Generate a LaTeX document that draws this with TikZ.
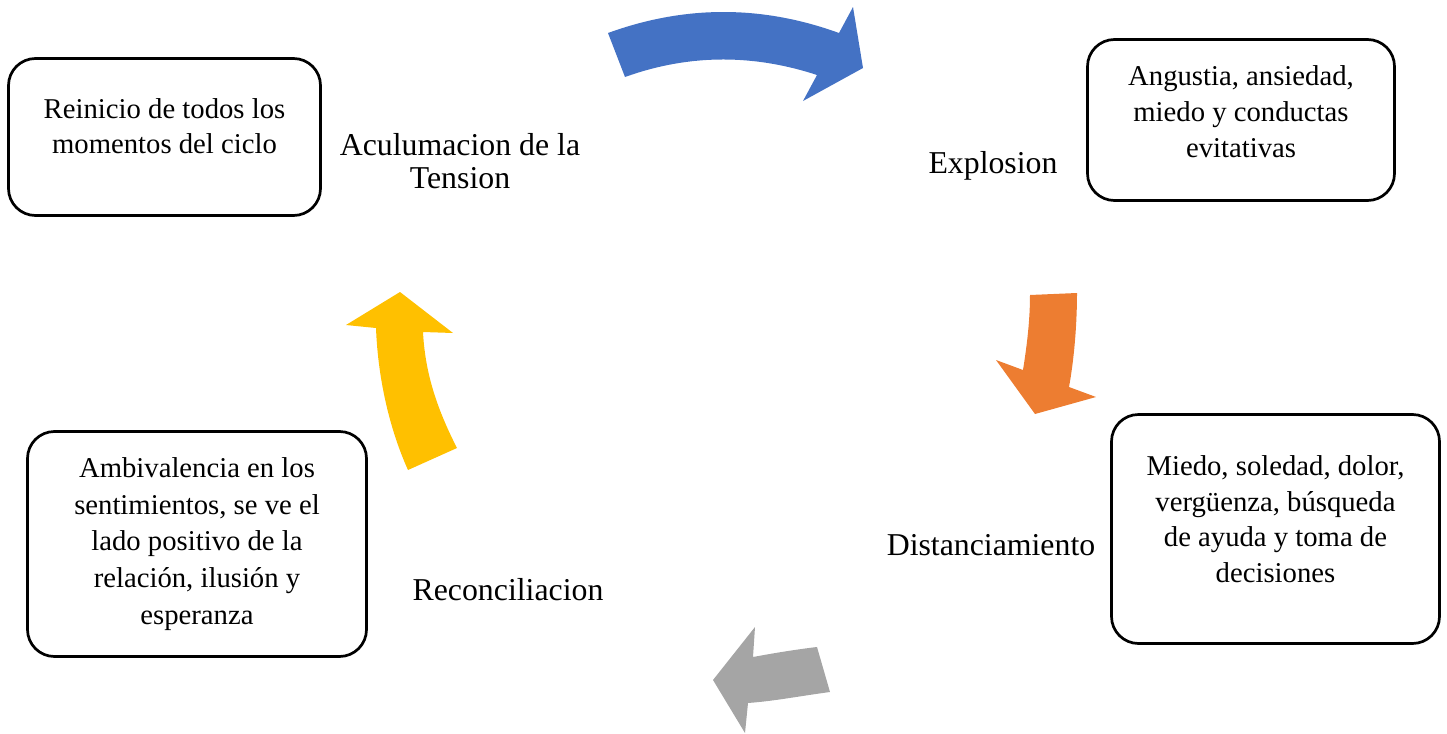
\documentclass[tikz,border=0pt]{standalone}
\usepackage{fontspec}
\setmainfont{Liberation Serif}
\definecolor{cycleblue}{HTML}{4472C4}
\definecolor{cycleorange}{HTML}{ED7D31}
\definecolor{cyclegray}{HTML}{A5A5A5}
\definecolor{cycleyellow}{HTML}{FFC000}
\newcommand{\lowpad}[1]{\rule[-#1]{0pt}{#1}}

\begin{document}
\begin{tikzpicture}[x = 0.5pt, y = -0.5pt,
	card/.style = {draw, line width = 1.35pt, rounded corners = 13.5pt, align = center, inner sep = 0pt, font = \fontsize{14.35}{17.85}\selectfont},
	phase/.style = {align = center, inner sep = 0pt, font = \fontsize{15.9}{16.5}\selectfont}]
	 \useasboundingbox (0, 0) rectangle (1447, 734);
	 
	 \fill[cycleblue] (608, 33) .. controls (685, 5) and (762, 5) .. (839, 33) -- (853, 7) -- (863, 68) -- (803, 101) -- (817, 75) .. controls (753, 54) and (689, 54) .. (625, 77) -- cycle;
	 \fill[cycleorange] (1030, 295) -- (1077, 293) .. controls (1077, 325) and (1074, 360) .. (1069, 387) -- (1096, 397) -- (1035, 414) -- (996, 360) -- (1023, 370) .. controls (1027, 345) and (1030, 320) .. (1030, 295) -- cycle;
	 \fill[cyclegray] (817, 647) -- (830, 692) .. controls (800, 696) and (775, 701) .. (748, 703) -- (745, 733) -- (713, 680) -- (755, 627) -- (753, 657) .. controls (780, 652) and (800, 649) .. (817, 647) -- cycle;
	 \fill[cycleyellow] (408, 470) -- (457, 448) .. controls (435, 405) and (425, 370) .. (423, 332) -- (453, 333) -- (400, 292) -- (346, 325) -- (376, 328) .. controls (378, 380) and (390, 430) .. (408, 470) -- cycle;
	 
	 \node[phase] (tension) at (460, 161) {Aculumacion de la\\Tension};
	 \node[phase] (explosion) at (993, 166) {Explosion};
	 \node[phase] (distance) at (991, 545) {Distanciamiento};
	 \node[phase] (reconcile) at (508, 590) {Reconciliacion};
	 
	 \node[card, minimum width = 156pt, minimum height = 78.5pt] (restart) at (164.5, 137) {Reinicio de todos los\\momentos del ciclo\lowpad{11pt}};
	 \node[card, minimum width = 153.5pt, minimum height = 80.5pt] (anguish) at (1241, 120) {Angustia, ansiedad,\\miedo y conductas\\evitativas\lowpad{8.5pt}};
	 \node[card, minimum width = 164pt, minimum height = 114.5pt] (fear) at (1275.5, 529) {Miedo, soledad, dolor,\\vergüenza, búsqueda\\de ayuda y toma de\\decisiones\lowpad{10pt}};
	 \node[card, minimum width = 169.5pt, minimum height = 112.5pt, font = \fontsize{14.35}{18.4}\selectfont] (ambivalence) at (197, 544) {Ambivalencia en los\\sentimientos, se ve el\\lado positivo de la\\relación, ilusión y\\esperanza};
\end{tikzpicture}
\end{document}
